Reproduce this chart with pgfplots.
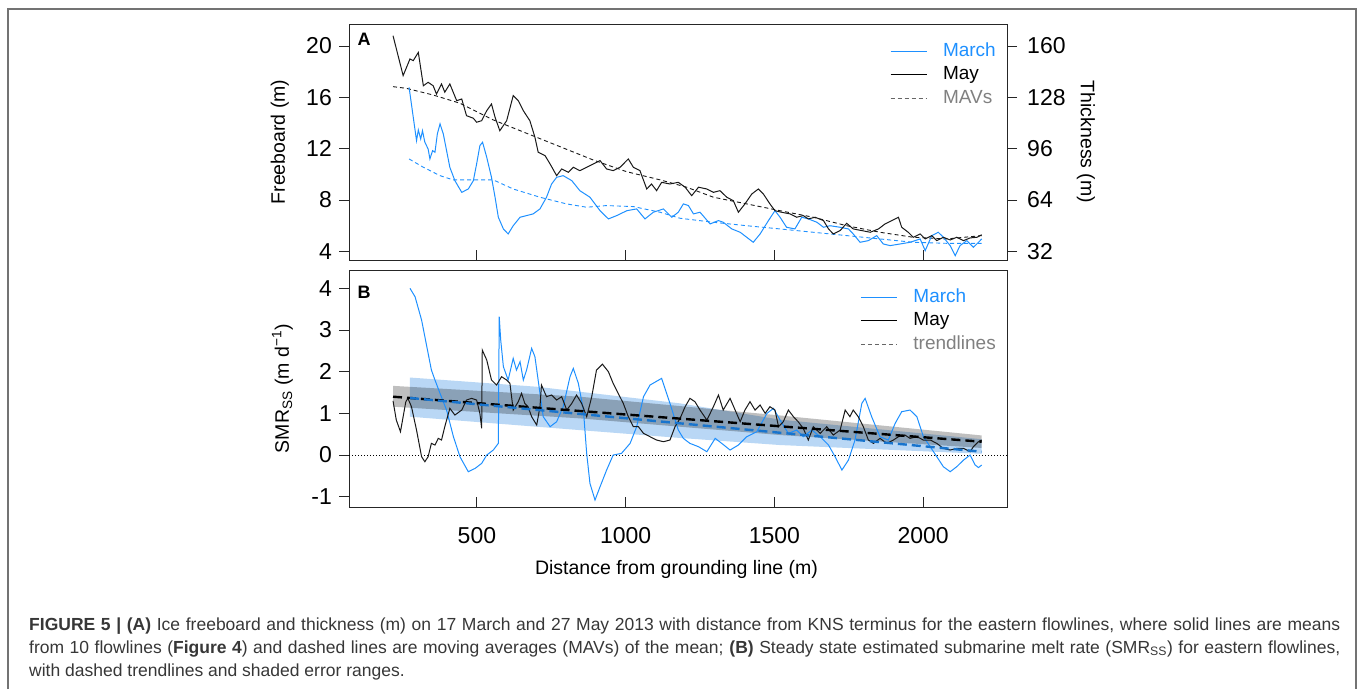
\documentclass[border=0pt]{standalone}
\usepackage{fontspec}
\setmainfont{Liberation Sans}
\usepackage{pgfplots}
\pgfplotsset{compat=1.18}

\definecolor{mblue}{RGB}{30,144,255}
\definecolor{tblue}{RGB}{24,116,205}
\definecolor{bandblue}{RGB}{185,215,245}
\definecolor{capgray}{RGB}{55,55,55}

\pgfplotsset{
  panel/.style={
    scale only axis, width=658pt,
    xmin=70, xmax=2282,
    axis line style={black!85, line width=0.9pt},
    tick align=outside, major tick length=10pt,
    tick style={black!85, line width=0.9pt},
    x tick style={yshift=10pt},
    xtick={500,1000,1500,2000}, xtick pos=bottom, ytick pos=left,
    ticklabel style={font=\fontsize{23}{23}\selectfont},
    yticklabel style={inner sep=0pt, xshift=-7pt},
    xticklabel style={inner sep=0pt, yshift=-10pt},
    /pgf/number format/assume math mode=true,
    /pgf/number format/set thousands separator={},
    label style={font=\fontsize{19.5}{20}\selectfont},
    legend style={draw=none, fill=none, at={(1,1)}, anchor=north east,
      xshift=-9pt, yshift=-16pt, font=\fontsize{19}{19}\selectfont,
      row sep=1.5pt, column sep=14pt, inner sep=0pt,
      nodes={inner sep=2pt, text height=14pt, text depth=4pt}},
    legend cell align=left,
    legend image code/.code={\draw[##1] (0pt,0pt) -- (36pt,0pt);},
  },
}

\begin{document}
\begin{tikzpicture}
\path[use as bounding box] (0pt,0pt) rectangle (1357pt,-689pt);

% ---------- panel A: freeboard ----------
\begin{axis}[panel, at={(349pt,-260pt)}, anchor=south west, height=236pt,
  ymin=3.33, ymax=21.71, ytick={4,8,12,16,20}, xticklabels={},
  ylabel={Freeboard (m)},
  ylabel style={at={(axis description cs:-0.0973,0.5)}, anchor=base}]
\addlegendimage{mblue, line width=1pt}
\addlegendentry{\textcolor{mblue}{March}}
\addlegendimage{black, line width=1pt}
\addlegendentry{May}
\addlegendimage{black!60, line width=0.8pt, dash pattern=on 4pt off 3pt}
\addlegendentry{\textcolor{black!50}{MAVs}}

% moving averages
\addplot[forget plot, black!90, line width=0.9pt, dash pattern=on 4pt off 3pt] coordinates {
(218,16.83) (263,16.7) (353,16.18) (443,15.54) (555,14.24) (667,13.2) (779,12.16)
(891,11.12) (1003,10.21) (1116,9.57) (1205,9.0) (1295,8.22) (1407,7.7) (1519,7.17)
(1631,6.66) (1743,6.0) (1855,5.49) (1967,5.1) (2079,4.97) (2197,5.23)};
\addplot[forget plot, mblue, line width=0.9pt, dash pattern=on 4pt off 3pt] coordinates {
(272,11.2) (320,10.55) (376,9.9) (420,9.57) (510,9.57) (555,9.57) (622,8.86) (712,8.22)
(801,7.7) (869,7.44) (936,7.57) (1026,7.49) (1116,7.05) (1183,6.58) (1295,6.27)
(1407,6.0) (1519,5.75) (1631,5.49) (1743,5.23) (1855,4.97) (1967,4.71) (2079,4.63) (2197,4.63)};

% March mean
\addplot[forget plot, mblue, line width=1pt] coordinates {
(272,16.78) (286,14.45) (297,12.63) (303,13.46) (311,12.76) (317,13.4) (325,12.5) (336,11.98)
(342,11.2) (351,11.85) (359,11.72) (367,13.15) (376,13.93) (387,13.15) (398,11.85) (409,10.55)
(426,9.51) (449,8.6) (471,8.86) (488,9.51) (499,10.81) (510,12.24) (519,12.5) (533,11.33)
(549,9.77) (561,8.22) (572,6.66) (589,5.75) (605,5.36) (622,6.0) (645,6.66) (667,6.79)
(689,6.92) (712,7.31) (734,8.22) (751,9.25) (768,9.77) (790,9.9) (819,9.51) (846,8.73)
(880,8.22) (914,7.17) (942,6.53) (970,6.79) (1004,7.17) (1037,7.31) (1065,6.53) (1093,7.05)
(1127,7.31) (1155,6.66) (1177,7.05) (1194,7.7) (1211,7.57) (1228,6.92) (1250,7.05) (1284,6.14)
(1312,6.4) (1328,6.27) (1357,5.75) (1385,5.49) (1407,5.1) (1429,4.71) (1452,5.36) (1480,6.4)
(1502,7.17) (1519,6.66) (1541,5.88) (1569,5.75) (1592,6.66) (1614,6.53) (1643,6.27) (1665,5.88)
(1687,6.0) (1721,5.88) (1749,5.75) (1765,5.36) (1788,4.71) (1816,4.84) (1844,5.23) (1866,4.58)
(1889,4.45) (1923,4.58) (1956,4.71) (1990,4.97) (2007,4.06) (2029,5.23) (2051,5.49) (2068,5.1)
(2091,4.45) (2108,3.67) (2124,4.45) (2147,4.84) (2169,4.32) (2186,4.71) (2197,4.97)};

% May mean
\addplot[forget plot, black!90, line width=1pt] coordinates {
(218,20.8) (252,17.69) (275,18.99) (286,18.86) (303,19.5) (320,16.9) (336,17.17) (353,16.9)
(364,16.26) (381,17.04) (392,16.4) (409,17.04) (432,15.74) (449,15.87) (465,14.57) (488,14.37)
(499,14.06) (516,14.18) (533,14.96) (549,15.48) (561,14.45) (577,13.4) (600,14.18) (622,16.13)
(639,15.74) (656,14.96) (678,14.18) (695,12.89) (706,11.72) (729,11.46) (746,10.81) (768,9.9)
(785,10.42) (807,10.16) (824,10.55) (846,10.29) (869,10.55) (891,10.81) (914,11.07) (936,10.42)
(958,10.29) (981,10.55) (1009,11.2) (1026,10.55) (1048,10.29) (1071,8.86) (1087,9.25) (1104,8.73)
(1121,9.38) (1149,9.25) (1177,9.38) (1200,9.0) (1222,8.34) (1245,9.0) (1273,8.86) (1295,8.6)
(1317,8.73) (1340,8.22) (1362,7.95) (1379,7.05) (1401,7.7) (1424,8.47) (1446,8.86) (1463,8.47)
(1485,7.7) (1502,7.17) (1524,7.05) (1553,6.92) (1575,6.66) (1597,6.79) (1614,6.53) (1637,6.66)
(1665,6.4) (1682,5.75) (1698,5.36) (1721,5.62) (1743,6.19) (1765,5.75) (1794,5.62) (1822,5.49)
(1850,5.75) (1872,6.14) (1895,6.4) (1917,6.66) (1928,5.88) (1950,5.49) (1967,5.1) (1990,5.36)
(2007,4.97) (2029,5.23) (2046,4.84) (2068,5.1) (2091,4.89) (2113,5.1) (2136,4.84) (2158,5.05)
(2181,5.1) (2197,5.3)};

\node[font=\bfseries\fontsize{18}{18}\selectfont] at (rel axis cs:0.0228,0.936) {A};
\end{axis}

% right-hand thickness axis
\begin{axis}[scale only axis, width=658pt, height=236pt, at={(349pt,-260pt)}, anchor=south west,
  xmin=70, xmax=2282, ymin=26.64, ymax=173.68,
  axis x line=none, axis y line*=right,
  axis line style={black!85, line width=0.9pt},
  tick align=outside, major tick length=10pt,
  tick style={black!85, line width=0.9pt},
  ytick={32,64,96,128,160},
  ticklabel style={font=\fontsize{23}{23}\selectfont},
  yticklabel style={inner sep=0pt, xshift=10pt},
  /pgf/number format/assume math mode=true,
  ylabel={Thickness (m)},
  label style={font=\fontsize{19.5}{20}\selectfont},
  ylabel style={at={(axis description cs:1.12,0.5)}, anchor=center, rotate=180}]
\end{axis}

% ---------- panel B: SMR ----------
\begin{axis}[panel, at={(349pt,-507pt)}, anchor=south west, height=237pt,
  ymin=-1.247, ymax=4.44, ytick={-1,0,1,2,3,4},
  ylabel={SMR\textsubscript{SS} (m d\textsuperscript{−1})},
  ylabel style={at={(axis description cs:-0.0912,0.5)}, anchor=base},
  xlabel={Distance from grounding line (m)},
  xlabel style={at={(axis description cs:0.4977,-0.2827)}, anchor=base}]
\addlegendimage{mblue, line width=1pt}
\addlegendentry{\textcolor{mblue}{March}}
\addlegendimage{black, line width=1pt}
\addlegendentry{May}
\addlegendimage{black!60, line width=0.8pt, dash pattern=on 4pt off 3pt}
\addlegendentry{\textcolor{black!50}{trendlines}}

% error ranges
\addplot[forget plot, draw=none, fill=bandblue] coordinates {
(275,1.86) (700,1.64) (1183,1.24) (1519,0.85) (2197,0.38)
(2197,0.03) (1519,0.24) (1183,0.41) (700,0.68) (275,0.92)} -- cycle;
\addplot[forget plot, draw=none, fill=black, fill opacity=0.25] coordinates {
(218,1.66) (846,1.40) (1519,0.95) (2197,0.47)
(2197,0.17) (1519,0.48) (846,0.88) (218,1.16)} -- cycle;

\addplot[forget plot, black, line width=0.8pt, dash pattern=on 1pt off 2pt] coordinates {(70,0) (2282,0)};

% March
\addplot[forget plot, mblue, line width=1pt] coordinates {
(275,4.0) (292,3.8) (303,3.52) (314,3.24) (325,2.84) (336,2.44) (347,2.04) (359,1.8) (376,1.48)
(398,1.08) (421,0.44) (443,-0.04) (471,-0.40) (494,-0.32) (516,-0.2) (533,0.0) (555,0.12)
(572,0.28) (575,3.32) (580,2.76) (589,2.12) (605,1.8) (622,2.32) (633,2.04) (645,2.24) (656,1.8)
(667,2.04) (684,2.56) (695,2.36) (712,1.48) (723,0.92) (746,0.68) (768,0.80) (790,1.16)
(813,1.88) (824,2.08) (841,1.72) (858,1.08) (869,0.04) (880,-0.68) (897,-1.08) (914,-0.76)
(936,-0.36) (958,0.0) (986,0.04) (1015,0.28) (1037,0.68) (1060,1.40) (1082,1.68) (1121,1.84)
(1149,1.24) (1177,0.6) (1194,0.40) (1216,0.28) (1245,0.2) (1273,0.08) (1301,0.40) (1323,0.28)
(1351,0.12) (1379,0.24) (1407,0.44) (1441,0.56) (1475,1.0) (1497,1.12) (1519,0.84) (1547,0.52)
(1575,0.6) (1597,0.44) (1626,0.6) (1654,0.44) (1682,0.24) (1704,-0.04) (1727,-0.36) (1749,-0.12)
(1771,0.36) (1794,1.24) (1805,1.36) (1827,0.92) (1855,0.44) (1883,0.36) (1906,0.76) (1928,1.04)
(1956,1.08) (1979,0.92) (2001,0.44) (2035,0.08) (2068,-0.28) (2091,-0.40) (2113,-0.28)
(2136,-0.12) (2158,0.0) (2175,-0.24) (2186,-0.30) (2197,-0.24)};

% May
\addplot[forget plot, black!90, line width=1pt] coordinates {
(218,1.3) (229,0.84) (243,0.56) (252,0.92) (261,1.28) (268,1.36) (280,1.16) (297,0.6) (314,-0.04)
(325,-0.16) (336,-0.04) (347,0.28) (359,0.24) (370,0.40) (381,0.36) (392,0.68) (409,1.12)
(426,0.96) (449,1.08) (465,1.32) (482,1.36) (499,1.32) (510,1.0) (516,0.64) (518,2.52) (533,2.28)
(549,1.8) (566,1.68) (583,1.88) (600,1.8) (611,1.72) (622,1.08) (639,1.28) (650,1.48) (661,1.24)
(672,1.16) (684,0.92) (701,0.72) (712,1.16) (717,1.68) (734,1.40) (751,1.44) (768,1.32)
(785,1.40) (802,1.08) (819,1.24) (835,1.44) (852,1.24) (869,0.92) (886,1.40) (902,2.04)
(922,2.18) (942,2.0) (958,1.72) (975,1.48) (992,1.24) (1009,0.92) (1026,0.68) (1043,0.68)
(1060,0.52) (1082,0.44) (1104,0.36) (1127,0.32) (1149,0.36) (1166,0.68) (1183,0.88) (1200,1.16)
(1216,1.36) (1233,1.28) (1250,1.08) (1273,0.84) (1295,1.16) (1312,1.44) (1328,1.08) (1351,1.36)
(1368,1.08) (1385,0.80) (1401,1.08) (1418,1.28) (1435,1.08) (1452,1.20) (1469,1.0) (1485,1.16)
(1502,1.08) (1514,0.68) (1530,0.80) (1547,1.08) (1564,0.92) (1580,0.80) (1597,0.64) (1614,0.36)
(1631,0.68) (1654,0.52) (1676,0.68) (1698,0.48) (1721,0.60) (1738,1.08) (1754,0.92) (1765,1.08)
(1782,0.92) (1799,0.68) (1816,0.36) (1833,0.28) (1855,0.40) (1878,0.28) (1900,0.36) (1917,0.44)
(1939,0.48) (1956,0.40) (1979,0.44) (2001,0.36) (2024,0.36) (2046,0.28) (2068,0.16) (2091,0.12)
(2113,0.16) (2136,0.16) (2158,0.08) (2169,0.20) (2186,0.32) (2197,0.36)};

% trendlines
\addplot[forget plot, black, line width=2.4pt, dash pattern=on 9pt off 5pt] coordinates {(218,1.40) (2197,0.32)};
\addplot[forget plot, tblue, line width=2.4pt, dash pattern=on 9pt off 5pt] coordinates {(275,1.37) (2197,0.08)};

\node[font=\bfseries\fontsize{18}{18}\selectfont] at (rel axis cs:0.0228,0.908) {B};
\end{axis}

% frame and caption
\draw[black!55, line width=1.5pt] (8pt,-689pt) -- (8pt,-9pt) -- (1356pt,-9pt) -- (1356pt,-689pt);
\begin{scope}[every node/.style={anchor=base west, inner sep=0pt, text=capgray,
    font=\fontsize{17.5}{21}\selectfont}]
\node at (29pt,-630pt) {\makebox[1311pt][s]{\textbf{FIGURE 5 | (A)} Ice freeboard and thickness (m) on 17 March and 27 May 2013 with distance from KNS terminus for the eastern flowlines, where solid lines are means}};
\node at (29pt,-653pt) {\makebox[1311pt][s]{from 10 flowlines (\textbf{Figure 4}) and dashed lines are moving averages (MAVs) of the mean; \textbf{(B)} Steady state estimated submarine melt rate (SMR\textsubscript{SS}) for eastern flowlines,}};
\node at (29pt,-676pt) {with dashed trendlines and shaded error ranges.};
\end{scope}
\end{tikzpicture}
\end{document}
